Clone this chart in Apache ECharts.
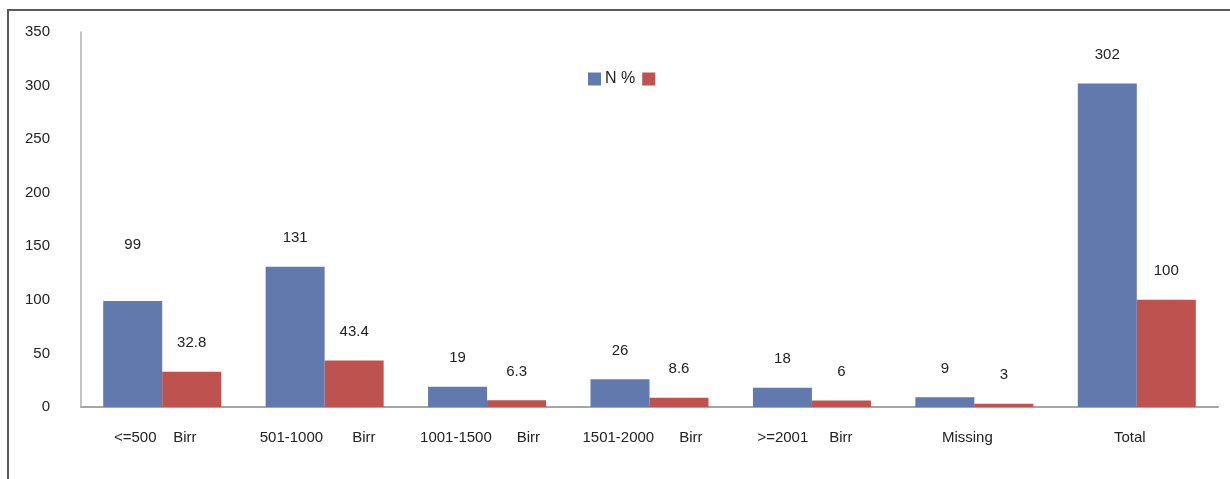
<!DOCTYPE html>
<html>
<head>
<meta charset="utf-8">
<script src="https://cdn.jsdelivr.net/npm/echarts@6/dist/echarts.min.js"></script>
<style>
  html, body { margin: 0; padding: 0; background: #fff; }
  .frame {
    position: absolute; left: 7px; top: 9px; width: 1230px; height: 480px;
    border-top: 2px solid #5a5a5a; border-left: 2px solid #5a5a5a;
  }
  .echarts { position: absolute; left: 0; top: 0; width: 1230px; height: 479px; }
</style>
</head>
<body>
<div class="frame"></div>
<div id="myChart" class="echarts"></div>
<script>
  var categories = ['<=500    Birr', '501-1000       Birr', '1001-1500      Birr',
    '1501-2000      Birr', '>=2001     Birr', 'Missing', 'Total'];
  var countN = [99, 131, 19, 26, 18, 9, 302];
  var percent = [32.8, 43.4, 6.3, 8.6, 6, 3, 100];
  var yTicks = [0, 50, 100, 150, 200, 250, 300, 350];

  var font = 'Liberation Sans, Arial, sans-serif';
  var textColor = '#222';

  // label of 99 sits higher in the original (overlap avoidance)
  var blueData = countN.map(function (v, i) {
    if (i === 0) return { value: v, label: { distance: 49 } };
    return v;
  });

  var myChart = echarts.init(document.getElementById('myChart'));
  var option = {
    animation: false,
    backgroundColor: 'transparent',
    textStyle: { fontFamily: font },
    legend: {
      data: ['N %', ' '],
      left: 583,
      top: 66,
      itemWidth: 13,
      itemHeight: 13,
      itemGap: 7,
      icon: 'rect',
      textStyle: { fontSize: 16, color: textColor, fontFamily: font, padding: [0, 0, 0, -1] }
    },
    grid: { left: 81, right: 12, top: 32, bottom: 72 },
    xAxis: {
      type: 'category',
      data: categories,
      axisLine: { show: true, lineStyle: { color: '#a6a6a6', width: 2 } },
      axisTick: { show: false },
      axisLabel: {
        interval: 0,
        margin: 23,
        fontSize: 15,
        color: textColor,
        fontFamily: font,
        padding: [0, 14, 0, 0]
      }
    },
    yAxis: {
      type: 'value',
      min: yTicks[0],
      max: yTicks[yTicks.length - 1],
      interval: 50,
      splitLine: { show: false },
      axisTick: { show: false },
      axisLine: { show: true, lineStyle: { color: '#b0b0b0', width: 1.5 } },
      axisLabel: { margin: 31, fontSize: 15, color: textColor, fontFamily: font }
    },
    series: [{
      name: 'N %',
      type: 'bar',
      barWidth: 59,
      barGap: '0%',
      itemStyle: { color: '#6279ad' },
      label: { show: true, position: 'top', distance: 21, fontSize: 15, color: textColor, fontFamily: font },
      data: blueData
    }, {
      name: ' ',
      type: 'bar',
      barWidth: 59,
      barGap: '0%',
      itemStyle: { color: '#bd524e' },
      label: { show: true, position: 'top', distance: 21, fontSize: 15, color: textColor, fontFamily: font },
      data: percent
    }]
  };
  myChart.setOption(option);
</script>
</body>
</html>
